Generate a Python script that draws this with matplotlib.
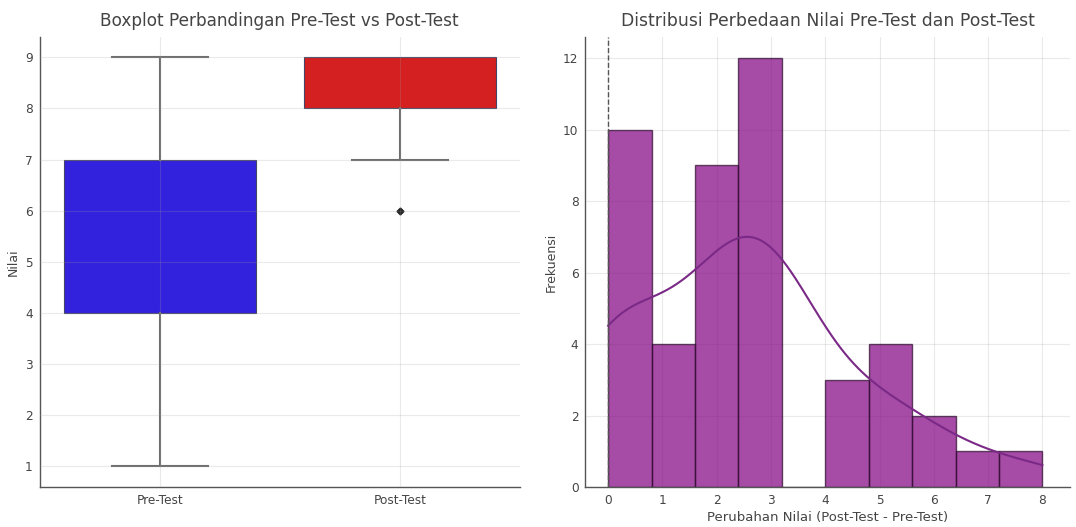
import numpy as np
import matplotlib
matplotlib.use("Agg")
import matplotlib.pyplot as plt

# boxplot summary
groups = ["Pre-Test", "Post-Test"]
box_low_whisker = [1, 7]
box_q1 = [4, 8]
box_median = [7, 9]
box_q3 = [7, 9]
box_high_whisker = [9, 9]
box_outliers = [[], [6]]
box_colors = ["#3322dd", "#d42020"]

# score differences (post - pre) and how often each one occurs
diff_values = [0, 1, 2, 3, 4, 5, 6, 7, 8]
diff_counts = [10, 4, 9, 12, 3, 4, 2, 1, 1]
bin_edges = np.linspace(0, 8, 11)

text_color = "#444444"

fig = plt.figure(figsize=(10.76, 5.27), dpi=100)
ax1 = fig.add_axes([0.037, 0.076, 0.446, 0.854])
ax2 = fig.add_axes([0.544, 0.076, 0.45, 0.854])

for ax in (ax1, ax2):
    ax.grid(True, color="#a0a0a0", alpha=0.22, linewidth=0.8)
    for side in ("top", "right"):
        ax.spines[side].set_visible(False)
    for side in ("left", "bottom"):
        ax.spines[side].set_color("#555555")
        ax.spines[side].set_linewidth(1.0)
    ax.tick_params(colors=text_color, labelsize=8.7, length=0, pad=5)

# --- left: boxplot ---
stats = []
for i, name in enumerate(groups):
    stats.append({
        "label": name,
        "whislo": box_low_whisker[i],
        "q1": box_q1[i],
        "med": box_median[i],
        "q3": box_q3[i],
        "whishi": box_high_whisker[i],
        "fliers": box_outliers[i],
    })
ax1.set_axisbelow(False)
bp = ax1.bxp(stats, positions=range(len(groups)), widths=0.8, patch_artist=True,
             capwidths=0.4,
             whiskerprops=dict(color="#6e6e6e", linewidth=1.5),
             capprops=dict(color="#6e6e6e", linewidth=1.5),
             medianprops=dict(color="#6e6e6e", linewidth=0.0),
             flierprops=dict(marker="D", markerfacecolor="#222222",
                             markeredgecolor="#222222", markersize=3.5))
for patch, c in zip(bp["boxes"], box_colors):
    patch.set_facecolor(c)
    patch.set_edgecolor("#444466")
    patch.set_linewidth(0.8)
    patch.set_zorder(1)
# post-test top cap sits on the box edge, hide it
bp["caps"][3].set_visible(False)
ax1.set_xlim(-0.5, 1.5)
ax1.set_ylim(0.6, 9.4)
ax1.set_yticks(range(1, 10))
ax1.set_ylabel("Nilai", fontsize=9, color=text_color)
ax1.set_title("Boxplot Perbandingan Pre-Test vs Post-Test", fontsize=12.2,
              color=text_color, pad=8)

# --- right: histogram + kde ---
data = np.repeat(diff_values, diff_counts).astype(float)
ax2.hist(data, bins=bin_edges, color="purple", alpha=0.7,
         edgecolor="#2a0a2a", linewidth=1.0, zorder=2)

# gaussian kde, scott bandwidth, scaled to counts
n = len(data)
bw = data.std(ddof=1) * n ** (-1 / 5)
xs = np.linspace(data.min(), data.max(), 300)
dens = np.exp(-0.5 * ((xs[:, None] - data[None, :]) / bw) ** 2).sum(axis=1)
dens = dens / (n * bw * np.sqrt(2 * np.pi))
bin_w = bin_edges[1] - bin_edges[0]
ax2.plot(xs, dens * n * bin_w, color="#7a2a86", linewidth=1.5, zorder=3)

ax2.axvline(0, color="#555555", linestyle="--", linewidth=1.0, zorder=4)
ax2.set_xlim(-0.42, 8.5)
ax2.set_ylim(0, 12.6)
ax2.set_xticks(range(0, 9))
ax2.set_yticks(range(0, 13, 2))
ax2.set_xlabel("Perubahan Nilai (Post-Test - Pre-Test)", fontsize=9.5,
               color=text_color, labelpad=3)
ax2.set_ylabel("Frekuensi", fontsize=9, color=text_color)
ax2.set_title("Distribusi Perbedaan Nilai Pre-Test dan Post-Test", fontsize=12.4,
              color=text_color, pad=8)

fig.savefig("out.png", dpi=100)
